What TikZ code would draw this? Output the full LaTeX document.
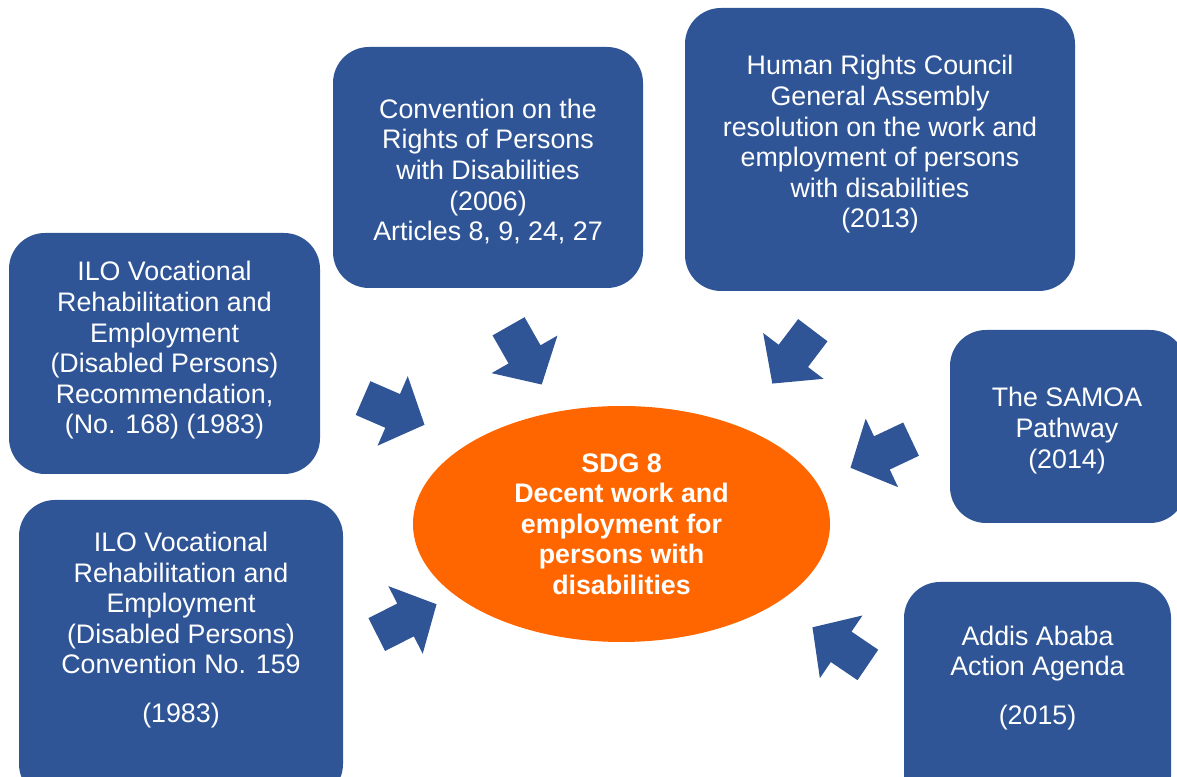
\documentclass[tikz,border=0pt]{standalone}
\usepackage{fontspec}
\setmainfont{Liberation Sans}
\usetikzlibrary{shapes.geometric}
\usetikzlibrary{shapes.arrows}
\definecolor{boxblue}{HTML}{2F5597}
\definecolor{sdgorange}{HTML}{FF6600}

\begin{document}
\begin{tikzpicture}[x=0.5pt,y=0.5pt,
  panel/.style={fill=boxblue,rounded corners=18pt,inner sep=0pt},
  paneltext/.style={text=white,align=center,inner sep=0pt,font=\fontsize{13.4}{15.3}\selectfont},
  hub/.style={ellipse,fill=sdgorange,inner sep=0pt,text=white,align=center,
    font=\fontsize{13.4}{15.3}\selectfont\bfseries},
  pointer/.style={single arrow,fill=boxblue,inner xsep=0pt,inner ysep=9pt,
    single arrow head extend=9.75pt,single arrow tip angle=95,minimum height=33.5pt,anchor=tip}]
  \clip (0,0) rectangle (1177,776);
  % centre
  \node[hub,minimum width=208.5pt,minimum height=118pt] (sdg) at (621.5,252)
    {SDG 8\\Decent work and\\employment for\\persons with\\disabilities};
  % boxes
  \node[panel,minimum width=155pt,minimum height=120.5pt] (crpd) at (488,608.5) {};
  \node[paneltext] (crpdtext) at (488,604.5)
    {Convention on the\\Rights of Persons\\with Disabilities\\(2006)\\Articles 8, 9, 24, 27};
  \node[panel,minimum width=195pt,minimum height=141.5pt] (hrc) at (880,626.5) {};
  \node[paneltext] (hrctext) at (880,631.5)
    {Human Rights Council\\General Assembly\\resolution on the work and\\employment of persons\\with disabilities\\(2013)};
  \node[panel,minimum width=155.5pt,minimum height=120.5pt] (ilorec) at (164.5,422.5) {};
  \node[paneltext] (ilorectext) at (164.5,425.5)
    {ILO Vocational\\Rehabilitation and\\Employment\\(Disabled Persons)\\Recommendation,\\(No. 168) (1983)};
  \node[panel,minimum width=118pt,minimum height=96.5pt] (samoa) at (1068,349.5) {};
  \node[paneltext] (samoatext) at (1067,345.5)
    {The SAMOA\\Pathway\\(2014)};
  \node[panel,minimum width=162pt,minimum height=150pt] (iloconv) at (181,126) {};
  \node[paneltext] (iloconvtext) at (181,146)
    {ILO Vocational\\Rehabilitation and\\Employment\\(Disabled Persons)\\Convention No. 159\\[9pt](1983)};
  \node[panel,minimum width=133.5pt,minimum height=115pt] (addis) at (1037.5,79) {};
  \node[paneltext] (addistext) at (1037.5,98)
    {Addis Ababa\\Action Agenda\\[9pt](2015)};
  % arrows
  \node[pointer,rotate=-60.3] (crpdarrow) at (542,391) {};
  \node[pointer,rotate=-127.2] (hrcarrow) at (772,392) {};
  \node[pointer,rotate=-23.5] (ilorecarrow) at (425,351) {};
  \node[pointer,rotate=-154.7] (samoaarrow) at (850,308) {};
  \node[pointer,rotate=26.9] (iloconvarrow) at (437,172) {};
  \node[pointer,rotate=145.8] (addisarrow) at (812,149) {};
\end{tikzpicture}
\end{document}
